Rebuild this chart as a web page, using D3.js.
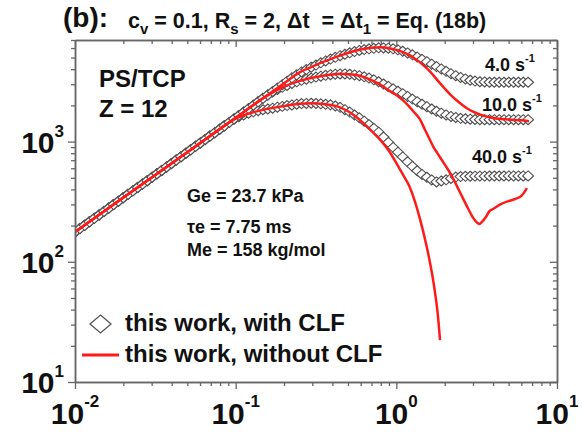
<!DOCTYPE html>
<html>
<head>
<meta charset="utf-8">
<script src="https://cdn.jsdelivr.net/npm/d3@7"></script>
<style>
  body { margin: 0; background: #fff; }
  svg text { font-family: "Liberation Sans", Arial, sans-serif; font-weight: bold; fill: #111; }
</style>
</head>
<body>
<svg id="chart" width="582" height="437"></svg>
<script>
// ---- data: stress growth vs. time, PS/TCP, Z = 12 ----
const timeCLF = [0.01,0.01072,0.01148,0.0123,0.01318,0.01413,0.01514,0.01622,0.01738,0.01862,
  0.01995,0.02138,0.02291,0.02455,0.0263,0.02818,0.0302,0.03236,0.03467,0.03715,
  0.03981,0.04266,0.04571,0.04898,0.05248,0.05623,0.06026,0.06457,0.06918,0.07413,
  0.07943,0.08511,0.0912,0.09772,0.1047,0.1122,0.1202,0.1288,0.138,0.1479,
  0.1585,0.1698,0.182,0.195,0.2089,0.2239,0.2399,0.257,0.2754,0.2951,
  0.3162,0.3388,0.3631,0.389,0.4169,0.4467,0.4786,0.5129,0.5495,0.5888,
  0.631,0.6761,0.7244,0.7762,0.8318,0.8913,0.955,1.023,1.096,1.175,
  1.259,1.349,1.445,1.549,1.66,1.778,1.905,2.042,2.188,2.344,
  2.512,2.692,2.884,3.09,3.311,3.548,3.802,4.074,4.365,4.677,
  5.012,5.37,5.754,6.166,6.607];

// with CLF (diamonds)
const withCLF_4 = [177,189,201,215,230,245,262,280,299,319,341,364,389,415,443,473,505,540,576,615,
  657,702,749,800,854,913,975,1041,1111,1187,1267,1353,1445,
  1544,1648,1760,1880,2007,2143,2289,2444,2610,2788,
  2977,3179,3390,3592,3797,3975,4155,4333,4519,4686,
  4860,5021,5187,5327,5472,5605,5734,5824,5908,5965,
  6022,6011,5987,5908,5796,5643,5461,5266,5049,4837,
  4620,4408,4210,4020,3840,3675,3536,3417,3323,3239,
  3189,3147,3136,3118,3118,3118,3118,3118,3118,3118,3118,3118];
const withCLF_10 = [177,189,201,215,230,245,262,280,299,319,341,364,389,415,443,473,505,540,576,615,
  657,702,749,800,854,913,975,1041,1111,1187,1267,1353,1445,
  1544,1648,1760,1880,2007,2143,2289,2444,2584,2711,
  2828,2933,3041,3141,3233,3307,3378,3443,3503,3557,
  3601,3635,3655,3655,3630,3585,3536,3457,3378,3264,
  3147,3015,2877,2748,2624,2502,2375,2256,2147,2044,
  1953,1866,1789,1722,1667,1620,1589,1562,1549,1536,
  1527,1521,1521,1521,1521,1521,1521,1521,1521,1521,1521,1521];
const withCLF_40 = [177,189,201,215,230,245,262,280,299,319,341,364,389,415,443,473,505,540,576,615,
  657,702,749,800,854,913,975,1041,1111,1187,1267,1353,1445,
  1540,1607,1667,1722,1767,1808,1840,1866,1897,1932,
  1963,1992,2019,2046,2070,2077,2083,2073,2062,2042,
  2023,1977,1928,1842,1759,1664,1577,1478,1385,1290,
  1197,1090,985,895,817,745,679,622,572,533,
  505,480,462,470,481,494,507,512,514,515,
  516,516,516,517,517,517,517,518,518,518,518,518];

// without CLF (red lines)
const timeNoCLF_4 = [0.01,0.02,0.05,0.1,0.2,0.25,0.3,0.35,0.4,0.45,0.5,0.6,0.7,0.8,0.9,1.0,1.1,1.2,1.3,1.4,
  1.5,1.6,1.7,1.8,2.0,2.2,2.4,2.6,2.8,3.0,3.4,4.0,5.0,6.0,6.7];
const noCLF_4 = [177,342,816,1578,3050,3771,4201,4598,4925,5206,5461,5829,6045,6080,5987,5796,5546,5266,4907,4580,
  4218,3899,3557,3245,2764,2414,2177,2000,1866,1776,1658,1571,1524,1503,1478];
const timeNoCLF_10 = [0.01,0.02,0.05,0.1,0.15,0.2,0.25,0.3,0.35,0.4,0.45,0.5,0.6,0.7,0.8,0.9,1.0,1.1,1.2,1.3,
  1.4,1.5,1.6,1.7,1.8,2.0,2.2,2.4,2.6,2.8,3.0,3.2,3.3,3.4,3.6,3.8,4.0,4.5,5.0,5.5,6.0,6.5];
const noCLF_10 = [177,342,816,1578,2320,2866,3202,3398,3530,3615,3667,3640,3516,3252,2967,2654,2440,2204,1965,1735,
  1538,1273,1065,905,802,646,526,418,337,276,233,210,206,214,235,264,275,303,320,333,353,410];
const timeNoCLF_40 = [0.01,0.02,0.05,0.07,0.1,0.15,0.2,0.25,0.3,0.35,0.4,0.45,0.5,0.55,0.6,0.7,0.8,0.9,1.0,1.1,
  1.2,1.3,1.4,1.5,1.6,1.7,1.75,1.8,1.85,1.87];
const noCLF_40 = [177,342,816,1124,1553,1845,1973,2065,2082,2054,2003,1917,1788,1642,1495,1229,1023,835,663,530,
  431,323,230,159,107,68.6,52.9,39.4,26.8,22.3];

const rateLabels = ["4.0", "10.0", "40.0"];

// axis ticks
const xMajor = [0.01, 0.1, 1, 10];
const xExp = ["-2", "-1", "0", "1"];
const xMinor = [0.02,0.03,0.04,0.05,0.06,0.07,0.08,0.09,0.2,0.3,0.4,0.5,0.6,0.7,0.8,0.9,2,3,4,5,6,7,8,9];
const yMajor = [10, 100, 1000];
const yExp = ["1", "2", "3"];
const yMinor = [20,30,40,50,60,70,80,90,200,300,400,500,600,700,800,900,2000,3000,4000,5000,6000,7000];

// ---- layout ----
const svg = d3.select("#chart");
const L = 75, R = 557, T = 40, B = 382;
const x = d3.scaleLog().domain([0.01, 10]).range([L, R]);
const y = d3.scaleLog().domain([10, 7000]).range([B, T]);

svg.append("defs").append("clipPath").attr("id", "plotClip")
  .append("rect").attr("x", L).attr("y", T).attr("width", R - L).attr("height", B - T);

const plot = svg.append("g").attr("clip-path", "url(#plotClip)");

// diamonds, drawn in time order so each one overlaps the previous
const diamond = "M0,-5L5.5,0L0,5L-5.5,0Z";
[withCLF_40, withCLF_10, withCLF_4].forEach(series => {
  plot.append("g").selectAll("path")
    .data(series.map((v, i) => [timeCLF[i], v]))
    .join("path")
    .attr("d", diamond)
    .attr("transform", d => `translate(${x(d[0])},${y(d[1])})`)
    .attr("fill", "#fff")
    .attr("stroke", "#4d4d4d")
    .attr("stroke-width", 1.1);
});

// red lines
const line = d3.line().x(d => x(d[0])).y(d => y(d[1])).curve(d3.curveMonotoneX);
[[timeNoCLF_4, noCLF_4], [timeNoCLF_10, noCLF_10], [timeNoCLF_40, noCLF_40]].forEach(([t, v]) => {
  plot.append("path")
    .attr("d", line(t.map((ti, i) => [ti, v[i]])))
    .attr("fill", "none")
    .attr("stroke", "#ff1a1a")
    .attr("stroke-width", 2.5)
    .attr("stroke-linejoin", "round");
});

// ---- axes ----
function styleAxis(g) {
  g.selectAll("path.domain").attr("stroke", "#666").attr("stroke-width", 1.5);
  g.selectAll(".tick line").attr("stroke", "#666").attr("stroke-width", 1.3);
  g.selectAll(".tick text").remove();
}
function addAxis(gen, tx, ty) {
  const g = svg.append("g").attr("transform", `translate(${tx},${ty})`).call(gen);
  styleAxis(g);
  return g;
}
addAxis(d3.axisBottom(x).tickValues(xMajor).tickSizeInner(7).tickSizeOuter(0), 0, B);
addAxis(d3.axisBottom(x).tickValues(xMinor).tickSizeInner(4).tickSizeOuter(0), 0, B);
addAxis(d3.axisTop(x).tickValues(xMajor).tickSizeInner(-7).tickSizeOuter(0), 0, T);
addAxis(d3.axisTop(x).tickValues(xMinor).tickSizeInner(-4).tickSizeOuter(0), 0, T);
addAxis(d3.axisLeft(y).tickValues(yMajor).tickSizeInner(7).tickSizeOuter(0), L, 0);
addAxis(d3.axisLeft(y).tickValues(yMinor).tickSizeInner(4).tickSizeOuter(0), L, 0);
addAxis(d3.axisRight(y).tickValues(yMajor).tickSizeInner(-7).tickSizeOuter(0), R, 0);
addAxis(d3.axisRight(y).tickValues(yMinor).tickSizeInner(-4).tickSizeOuter(0), R, 0);

// tick labels as powers of ten
xMajor.forEach((v, i) => {
  const t = svg.append("text").attr("x", x(v)).attr("y", 424)
    .attr("text-anchor", "middle").style("font-size", "30px");
  t.append("tspan").text("10");
  t.append("tspan").attr("dy", -17).style("font-size", "17px").text(xExp[i]);
});
yMajor.forEach((v, i) => {
  const t = svg.append("text").attr("x", 64).attr("y", y(v) + 11)
    .attr("text-anchor", "end").style("font-size", "30px");
  t.append("tspan").text("10");
  t.append("tspan").attr("dy", -16).style("font-size", "17px").text(yExp[i]);
});

// ---- title ----
svg.append("text").attr("x", 63).attr("y", 27).style("font-size", "28px").text("(b):");
const sub = svg.append("text").attr("x", 128).attr("y", 28)
  .style("font-size", "21.5px").attr("xml:space", "preserve").style("white-space", "pre");
sub.append("tspan").text("c");
sub.append("tspan").attr("dy", 6).style("font-size", "15px").text("v");
sub.append("tspan").attr("dy", -6).text(" = 0.1, R");
sub.append("tspan").attr("dy", 6).style("font-size", "15px").text("s");
sub.append("tspan").attr("dy", -6).text(" = 2, \u0394t  = \u0394t");
sub.append("tspan").attr("dy", 6).style("font-size", "15px").text("1");
sub.append("tspan").attr("dy", -6).text(" = Eq. (18b)");

// ---- annotations ----
svg.append("text").attr("x", 99).attr("y", 87).style("font-size", "24px").text("PS/TCP");
svg.append("text").attr("x", 99).attr("y", 117).style("font-size", "24px").text("Z = 12");

const params = [["Ge = 23.7 kPa", 202], ["\u03c4e = 7.75 ms", 233], ["Me = 158 kg/mol", 256]];
params.forEach(([s, yy]) => {
  svg.append("text").attr("x", 187).attr("y", yy).style("font-size", "18px").text(s);
});

const rateX = [485, 482, 472];
const rateY = [71, 111, 163];
rateLabels.forEach((s, i) => {
  const t = svg.append("text").attr("x", rateX[i]).attr("y", rateY[i]).style("font-size", "18px");
  t.append("tspan").text(s + " s");
  t.append("tspan").attr("dy", -9).style("font-size", "11px").text("-1");
});

// ---- legend ----
svg.append("path").attr("d", "M0,-9L10.5,0L0,9L-10.5,0Z")
  .attr("transform", "translate(100.5,324)")
  .attr("fill", "#fff").attr("stroke", "#555").attr("stroke-width", 1.3);
svg.append("text").attr("x", 125).attr("y", 331).style("font-size", "24px").text("this work, with CLF");
svg.append("line").attr("x1", 82).attr("x2", 119).attr("y1", 355).attr("y2", 355)
  .attr("stroke", "#ff1a1a").attr("stroke-width", 3);
svg.append("text").attr("x", 125).attr("y", 362).style("font-size", "24px").text("this work, without CLF");
</script>
</body>
</html>
